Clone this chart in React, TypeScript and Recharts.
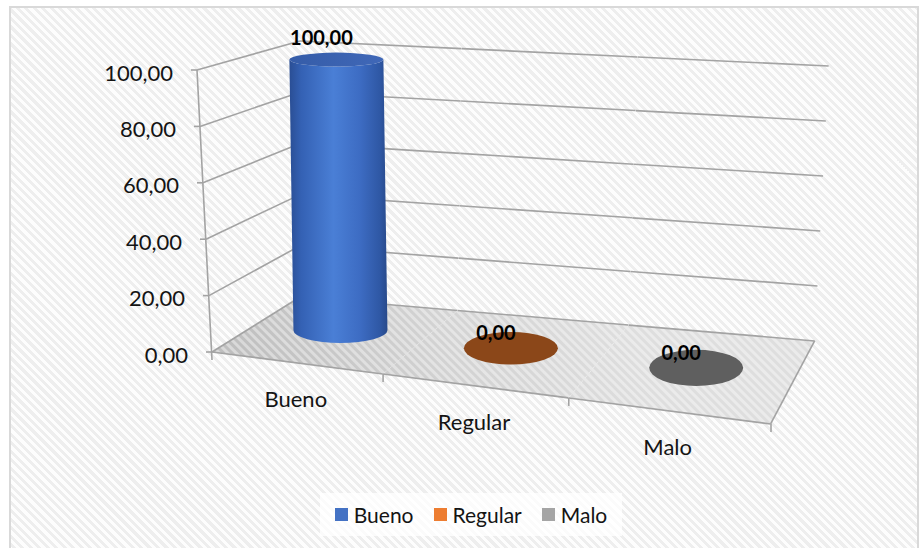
import { BarChart, Bar, XAxis, YAxis, Legend, LabelList } from 'recharts';

const CATEGORIES = ['Bueno', 'Regular', 'Malo'];
const VALUES = [100, 0, 0];
const Y_TICKS = [0, 20, 40, 60, 80, 100];

const SWATCH_COLORS = ['#4472c4', '#ed7d31', '#a5a5a5'];
const TOP_COLORS = ['#3b63b3', '#8b4719', '#5f5f5f'];

const data = CATEGORIES.map((name, i) => ({ name, value: VALUES[i] }));

const W = 922;
const H = 548;
const PLOT = { left: 212, right: 771, top: 70, bottom: 352 };
const PLOT_W = PLOT.right - PLOT.left;
const PLOT_H = PLOT.bottom - PLOT.top;
const Y_AXIS_W = 60;
const X_AXIS_H = 30;
const FONT = 'Lato, "Open Sans", sans-serif';
const GRID = '#a3a3a3';
const TEXT = '#141414';

// 3d box corners on screen (front/back, bottom/top, left/right)
type Pt = [number, number];
const FBL: Pt = [212, 352];
const FBR: Pt = [771, 424];
const FTL: Pt = [197, 70];
const FTR: Pt = [779, 122];
const BBL: Pt = [300, 297];
const BBR: Pt = [815, 341];
const BTL: Pt = [300, 41];
const BTR: Pt = [829, 66];
const PERSP = -0.118;
const BAR_DEPTH = 0.55;

const lerp = (a: Pt, b: Pt, t: number): Pt => [a[0] + (b[0] - a[0]) * t, a[1] + (b[1] - a[1]) * t];
const persp = (u: number) => ((1 + PERSP) * u) / (1 + PERSP * u);

function project(u: number, d: number, v: number): Pt {
  const p = persp(u);
  const f = lerp(lerp(FBL, FBR, p), lerp(FTL, FTR, p), v);
  const b = lerp(lerp(BBL, BBR, p), lerp(BTL, BTR, p), v);
  return lerp(f, b, d);
}

const fmt = (n: number) => n.toFixed(2).replace('.', ',');
const pts = (list: Pt[]) => list.map((p) => p.join(',')).join(' ');

function FloorSlice(props: any) {
  const { x, width, index } = props;
  const u0 = (x - PLOT.left) / PLOT_W;
  const u1 = (x + width - PLOT.left) / PLOT_W;
  const last = index === CATEGORIES.length - 1;
  const yMax = Y_TICKS[Y_TICKS.length - 1];
  const floor = [project(u0, 0, 0), project(u1, 0, 0), project(u1, 1, 0), project(u0, 1, 0)];
  return (
    <g>
      <polygon points={pts(floor)} fill="url(#floorGrad)" />
      <polygon points={pts(floor)} fill="url(#hatch)" />
      {Y_TICKS.map((t) => {
        const v = t / yMax;
        const a = project(u0, 1, v);
        const b = project(u1, 1, v);
        return <line key={'b' + t} x1={a[0]} y1={a[1]} x2={b[0]} y2={b[1]} stroke={GRID} strokeWidth={1.6} />;
      })}
      {index === 0 &&
        Y_TICKS.map((t) => {
          const v = t / yMax;
          const a = project(0, 0, v);
          const b = project(0, 1, v);
          return <line key={'l' + t} x1={a[0]} y1={a[1]} x2={b[0]} y2={b[1]} stroke={GRID} strokeWidth={1.6} />;
        })}
      {index === 0 && (
        <line x1={FBL[0]} y1={FBL[1] + 8} x2={FTL[0]} y2={FTL[1]} stroke={GRID} strokeWidth={1.6} />
      )}
      <line x1={floor[0][0]} y1={floor[0][1]} x2={floor[1][0]} y2={floor[1][1]} stroke={GRID} strokeWidth={1.6} />
      {last && (
        <line x1={floor[1][0]} y1={floor[1][1]} x2={floor[2][0]} y2={floor[2][1]} stroke={GRID} strokeWidth={1.6} />
      )}
    </g>
  );
}

function Cylinder(props: any) {
  const { x, width, height, index } = props;
  const u = (x + width / 2 - PLOT.left) / PLOT_W;
  const v = Math.max(0, height || 0) / PLOT_H;
  const [bx, by] = project(u, BAR_DEPTH, 0);
  const [tx, ty] = project(u, BAR_DEPTH, v);
  const rx = 47;
  const ryB = 12 + 5 * persp(u);
  const ryT = ryB * (1 - 0.45 * v);
  if (v < 0.002) {
    return <ellipse cx={bx} cy={by} rx={rx} ry={ryB + 2} fill={TOP_COLORS[index]} />;
  }
  const side = `M${tx - rx},${ty} L${bx - rx},${by} A${rx},${ryB} 0 0 0 ${bx + rx},${by} L${tx + rx},${ty} A${rx},${ryT} 0 0 1 ${tx - rx},${ty} Z`;
  return (
    <g>
      <path d={side} fill="url(#cylSide)" />
      <ellipse cx={tx} cy={ty} rx={rx} ry={ryT} fill="url(#cylTop)" />
    </g>
  );
}

function ValueLabel(props: any) {
  const { x, width, height, value } = props;
  const u = (x + width / 2 - PLOT.left) / PLOT_W;
  const v = Math.max(0, height || 0) / PLOT_H;
  const [tx, ty] = project(u, BAR_DEPTH, v);
  return (
    <text x={tx - 15} y={ty - 8 - 7 * v} textAnchor="middle" fill="#000" fontWeight={700} fontSize={20} fontFamily={FONT}>
      {fmt(Number(value))}
    </text>
  );
}

function YTick(props: any) {
  const { y, payload } = props;
  const v = (PLOT.bottom - y) / PLOT_H;
  const [px, py] = project(0, 0, v);
  return (
    <g>
      <line x1={px - 6} y1={py} x2={px} y2={py} stroke={GRID} strokeWidth={1.6} />
      <text x={px - 24} y={py + 2} textAnchor="end" dominantBaseline="central" fill={TEXT} fontSize={22} fontFamily={FONT}>
        {fmt(payload.value)}
      </text>
    </g>
  );
}

function XTick(props: any) {
  const { x, payload } = props;
  const band = PLOT_W / CATEGORIES.length;
  const u = (x - PLOT.left) / PLOT_W;
  const uR = (x + band / 2 - PLOT.left) / PLOT_W;
  const [lx, ly] = project(u, 0, 0);
  const [rx, ry] = project(uR, 0, 0);
  return (
    <g>
      <line x1={rx} y1={ry} x2={rx} y2={ry + 8} stroke={GRID} strokeWidth={1.6} />
      <text x={lx} y={ly + 44} textAnchor="middle" fill={TEXT} fontSize={22} fontFamily={FONT}>
        {payload.value}
      </text>
    </g>
  );
}

function LegendBox() {
  return (
    <div
      style={{
        width: '100%',
        height: '100%',
        background: 'rgba(255,255,255,0.75)',
        display: 'flex',
        alignItems: 'center',
        justifyContent: 'center',
        gap: 20,
        fontFamily: FONT,
        fontSize: 21,
        color: TEXT,
      }}
    >
      {CATEGORIES.map((c, i) => (
        <div key={c} style={{ display: 'flex', alignItems: 'center', gap: 6 }}>
          <span style={{ width: 13, height: 13, background: SWATCH_COLORS[i], display: 'inline-block' }} />
          <span>{c}</span>
        </div>
      ))}
    </div>
  );
}

export default function App() {
  return (
    <div style={{ position: 'absolute', left: 0, top: 0, width: W, height: H, overflow: 'hidden', background: '#fff' }}>
      <div
        style={{
          position: 'absolute',
          left: 9,
          top: 6,
          width: 906,
          height: 560,
          border: '2px solid #d9d9d9',
          background: 'repeating-linear-gradient(45deg, #fdfdfd 0px, #fdfdfd 3px, #eeeeee 3px, #eeeeee 6px)',
        }}
      />
      <div style={{ position: 'absolute', left: 0, top: 0 }}>
        <BarChart
          width={W}
          height={H}
          data={data}
          barCategoryGap={0}
          margin={{
            top: PLOT.top,
            right: W - PLOT.right,
            left: PLOT.left - Y_AXIS_W,
            bottom: H - PLOT.bottom - X_AXIS_H,
          }}
        >
          <defs>
            <linearGradient id="floorGrad" gradientUnits="userSpaceOnUse" x1={250} y1={390} x2={600} y2={250}>
              <stop offset="0" stopColor="#bfbfbf" />
              <stop offset="0.5" stopColor="#d2d2d2" />
              <stop offset="1" stopColor="#dedede" />
            </linearGradient>
            <pattern id="hatch" width="6" height="6" patternUnits="userSpaceOnUse" patternTransform="rotate(-45)">
              <rect width="3" height="6" fill="rgba(255,255,255,0.4)" />
            </pattern>
            <linearGradient id="cylSide" x1="0" y1="0" x2="1" y2="0">
              <stop offset="0" stopColor="#2a4e94" />
              <stop offset="0.12" stopColor="#3461b4" />
              <stop offset="0.45" stopColor="#4a7fd6" />
              <stop offset="0.72" stopColor="#3d6cc3" />
              <stop offset="0.92" stopColor="#2f58a5" />
              <stop offset="1" stopColor="#284a8b" />
            </linearGradient>
            <linearGradient id="cylTop" x1="0" y1="0" x2="1" y2="0">
              <stop offset="0" stopColor="#355ca8" />
              <stop offset="1" stopColor="#4068b8" />
            </linearGradient>
          </defs>
          <XAxis dataKey="name" axisLine={false} tickLine={false} height={X_AXIS_H} tick={XTick} interval={0} />
          <YAxis
            type="number"
            domain={[0, 100]}
            ticks={Y_TICKS}
            axisLine={false}
            tickLine={false}
            width={Y_AXIS_W}
            tick={YTick}
          />
          <Legend
            layout="horizontal"
            verticalAlign="middle"
            align="center"
            wrapperStyle={{ left: 320, top: 493, width: 302, height: 43 }}
            content={() => <LegendBox />}
          />
          <Bar dataKey="value" isAnimationActive={false} background={FloorSlice} shape={Cylinder}>
            <LabelList dataKey="value" content={ValueLabel} />
          </Bar>
        </BarChart>
      </div>
    </div>
  );
}
